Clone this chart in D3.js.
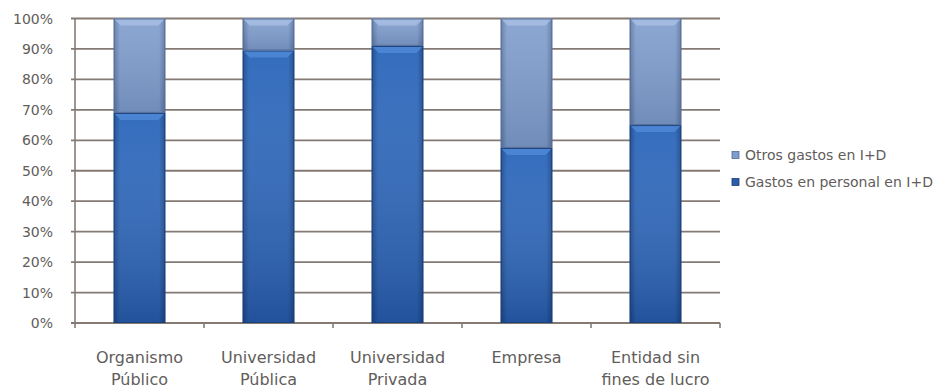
<!DOCTYPE html>
<html>
<head>
<meta charset="utf-8">
<script src="https://cdn.jsdelivr.net/npm/d3@7"></script>
<style>
  html, body { margin: 0; padding: 0; background: #ffffff; }
  svg { display: block; }
  text { font-family: "DejaVu Sans", Roboto, sans-serif; fill: #615d5b; }
</style>
</head>
<body>
<svg id="chart" width="948" height="389"></svg>
<script>
// Gasto en I+D por sector: reparto entre personal y otros gastos (%)
const categories = [
  ["Organismo", "Público"],
  ["Universidad", "Pública"],
  ["Universidad", "Privada"],
  ["Empresa"],
  ["Entidad sin", "fines de lucro"]
];
const personal = [69, 89.5, 91, 57.5, 65];
const otros = [31, 10.5, 9, 42.5, 35];
const seriesNames = ["Gastos en personal en I+D", "Otros gastos en I+D"];
const yTicks = [0, 10, 20, 30, 40, 50, 60, 70, 80, 90, 100];

const svg = d3.select("#chart");
const margin = { left: 75, right: 228, top: 18.5, bottom: 66 };
const W = 948, H = 389;
const x0 = margin.left, x1 = W - margin.right;
const yBottom = H - margin.bottom, yTop = margin.top;

const keys = categories.map(c => c.join(" "));
const rows = keys.map((k, i) => ({ key: k, personal: personal[i], otros: otros[i] }));

const x = d3.scaleBand().domain(keys).range([x0, x1]).paddingInner(0.6).paddingOuter(0.3);
const y = d3.scaleLinear().domain([0, 100]).range([yBottom, yTop]);

const defs = svg.append("defs");
function hGrad(id, edge, mid) {
  const g = defs.append("linearGradient").attr("id", id).attr("x1", 0).attr("x2", 1).attr("y1", 0).attr("y2", 0);
  g.append("stop").attr("offset", "0%").attr("stop-color", edge);
  g.append("stop").attr("offset", "12%").attr("stop-color", mid);
  g.append("stop").attr("offset", "88%").attr("stop-color", mid);
  g.append("stop").attr("offset", "100%").attr("stop-color", edge);
}
hGrad("gPersonal", "#1d4888", "#2c67bb");
hGrad("gOtros", "#5b74a0", "#7f9dcc");
// darker toward the base of the bars
const vg = defs.append("linearGradient").attr("id", "vShade").attr("x1", 0).attr("x2", 0).attr("y1", 0).attr("y2", 1);
vg.append("stop").attr("offset", "0%").attr("stop-color", "#ffffff").attr("stop-opacity", 0.04);
vg.append("stop").attr("offset", "100%").attr("stop-color", "#08204e").attr("stop-opacity", 0.3);
const vo = defs.append("linearGradient").attr("id", "vShadeO").attr("x1", 0).attr("x2", 0).attr("y1", 0).attr("y2", 1);
vo.append("stop").attr("offset", "0%").attr("stop-color", "#ffffff").attr("stop-opacity", 0.1);
vo.append("stop").attr("offset", "100%").attr("stop-color", "#1a2a4a").attr("stop-opacity", 0.15);

// gridlines
const grid = svg.append("g");
grid.selectAll("line").data(yTicks).join("line")
  .attr("x1", x0 - 4).attr("x2", x1)
  .attr("y1", d => y(d)).attr("y2", d => y(d))
  .attr("stroke", "#857a73").attr("stroke-width", 1.8);

// y axis labels
svg.append("g").selectAll("text").data(yTicks).join("text")
  .attr("x", 53).attr("y", d => y(d)).attr("dy", "0.36em")
  .attr("text-anchor", "end").attr("font-size", 14)
  .text(d => d + "%");

// vertical axis line
svg.append("line").attr("x1", x0).attr("x2", x0).attr("y1", y(100)).attr("y2", y(0))
  .attr("stroke", "#857a73").attr("stroke-width", 1.6);

// category ticks below the baseline
const tickXs = d3.range(keys.length + 1).map(i => x0 + i * (x1 - x0) / keys.length);
svg.append("g").selectAll("line").data(tickXs).join("line")
  .attr("x1", d => d).attr("x2", d => d).attr("y1", y(0)).attr("y2", y(0) + 5)
  .attr("stroke", "#857a73").attr("stroke-width", 1.6);

// stacked bars
const stack = d3.stack().keys(["personal", "otros"]);
const stacked = stack(rows);
const fills = { personal: "url(#gPersonal)", otros: "url(#gOtros)" };
const shades = { personal: "url(#vShade)", otros: "url(#vShadeO)" };
const bevel = { personal: "#4d86d4", otros: "#a5bde2" };
const bw = x.bandwidth();

stacked.forEach(layer => {
  const g = svg.append("g");
  const k = layer.key;
  g.selectAll("rect.base").data(layer).join("rect")
    .attr("x", d => x(d.data.key)).attr("width", bw)
    .attr("y", d => y(d[1])).attr("height", d => y(d[0]) - y(d[1]))
    .attr("fill", fills[k]);
  g.selectAll("rect.shade").data(layer).join("rect")
    .attr("x", d => x(d.data.key)).attr("width", bw)
    .attr("y", d => y(d[1])).attr("height", d => y(d[0]) - y(d[1]))
    .attr("fill", shades[k]);
  // top bevel
  g.selectAll("path").data(layer).join("path")
    .attr("d", d => {
      const xl = x(d.data.key), xr = xl + bw, yt = y(d[1]);
      return `M${xl},${yt}L${xr},${yt}L${xr - 7},${yt + 7}L${xl + 7},${yt + 7}Z`;
    })
    .attr("fill", bevel[k]).attr("opacity", 0.9);
  g.selectAll("rect.edge").data(layer).join("rect")
    .attr("x", d => x(d.data.key) + 0.5).attr("width", bw - 1)
    .attr("y", d => y(d[1]) + 0.5).attr("height", d => y(d[0]) - y(d[1]) - 1)
    .attr("fill", "none").attr("stroke", k === "personal" ? "#1b417c" : "#566f98").attr("stroke-width", 1);
});

// category labels
const labels = svg.append("g");
categories.forEach((lines, i) => {
  const t = labels.append("text")
    .attr("x", x(keys[i]) + bw / 2).attr("y", 363)
    .attr("text-anchor", "middle").attr("font-size", 16);
  lines.forEach((ln, j) => {
    t.append("tspan").attr("x", x(keys[i]) + bw / 2).attr("dy", j === 0 ? 0 : 22).text(ln);
  });
});

// legend (Otros on top, Personal below)
const legendItems = [
  { name: seriesNames[1], color: "#7f9dcc", edge: "#4f6a98", y: 155 },
  { name: seriesNames[0], color: "#2a5ea8", edge: "#173c74", y: 182 }
];
const lg = svg.append("g");
legendItems.forEach(it => {
  lg.append("rect").attr("x", 732).attr("y", it.y - 3.5).attr("width", 7).attr("height", 7)
    .attr("fill", it.color).attr("stroke", it.edge).attr("stroke-width", 0.8);
  lg.append("text").attr("x", 745).attr("y", it.y).attr("dy", "0.36em")
    .attr("font-size", 14).text(it.name);
});
</script>
</body>
</html>
